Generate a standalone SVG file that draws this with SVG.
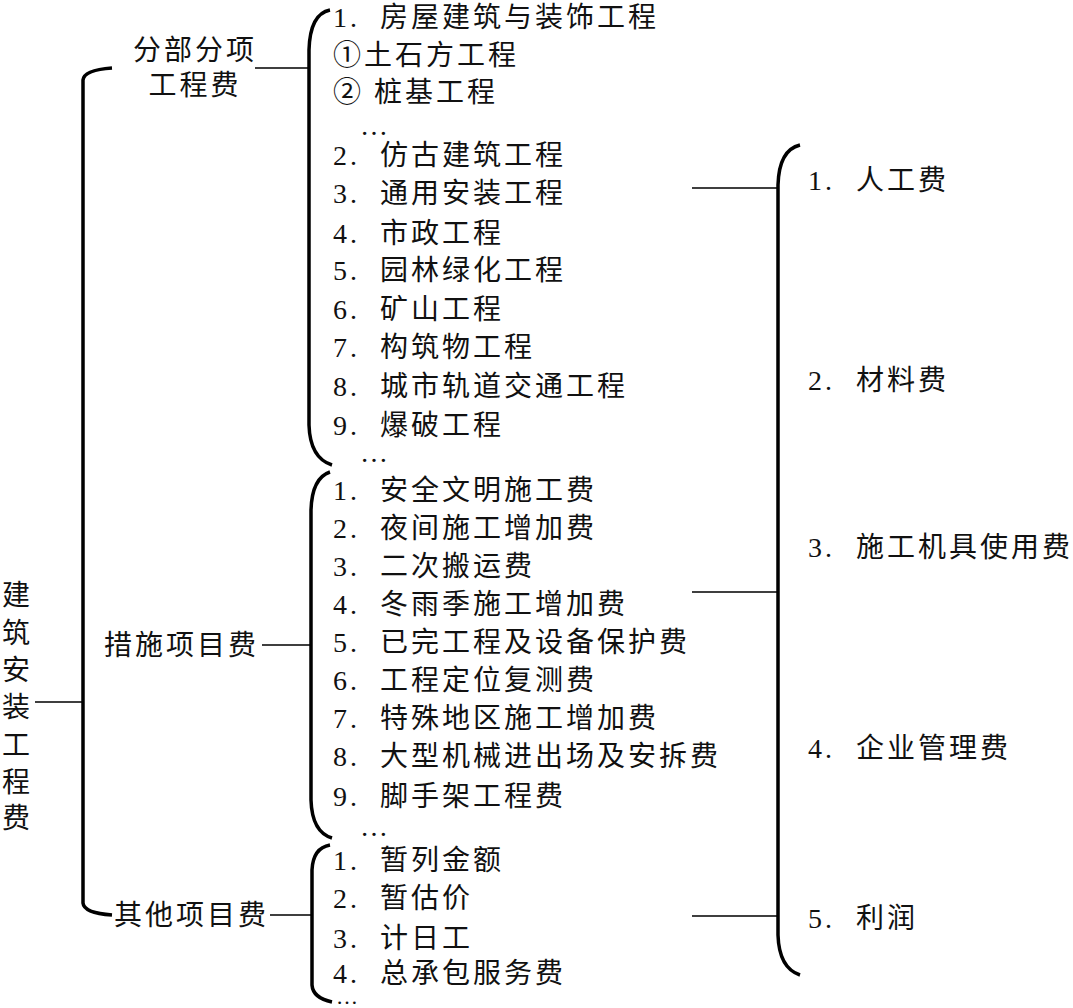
<svg xmlns="http://www.w3.org/2000/svg" width="1073" height="1008" viewBox="0 0 1073 1008">
<style>
text{font-family:"Liberation Serif","Noto Sans CJK SC",serif;font-size:28px;fill:#111;letter-spacing:3px}
.b{fill:none;stroke:#000;stroke-width:3.5}
.l{fill:none;stroke:#000;stroke-width:1.5}
</style>
<rect width="1073" height="1008" fill="#fff"/>
<g id="connectors">
<path class="b" d="M112,68 Q84,70 83,80 L83,903 Q84,913 112,915"/>
<path class="b" d="M330,10 Q310,14 309,50 L309,425 Q310,458 332,465"/>
<path class="b" d="M330,472 Q312,478 311,510 L311,800 Q312,832 332,838"/>
<path class="b" d="M330,845 Q313,848 312,870 L312,985 Q313,998 332,1002"/>
<path class="b" d="M800,145 Q779,150 778,185 L778,935 Q779,968 800,975"/>
<path class="l" d="M35,702 H83 M255,68 H309 M262,645 H311 M270,915 H312 M692,188 H778 M692,592 H778 M692,916 H778"/>
</g>
<g id="root"><text x="2" y="605">建</text><text x="2" y="643">筑</text><text x="2" y="680">安</text><text x="2" y="717">装</text><text x="2" y="755">工</text><text x="2" y="792">程</text><text x="2" y="828">费</text></g>
<g id="n1"><text x="195" y="60" text-anchor="middle">分部分项</text><text x="195" y="95" text-anchor="middle">工程费</text></g>
<g id="n2"><text x="104" y="655">措施项目费</text></g>
<g id="n3"><text x="114" y="925">其他项目费</text></g>
<g id="list1">
<text x="333" y="27">1.<tspan x="380">房屋建筑与装饰工程</tspan></text>
<text x="333" y="65">①土石方工程</text>
<text x="333" y="102">② 桩基工程</text>
<text x="360" y="135">…</text>
<text x="333" y="165">2.<tspan x="380">仿古建筑工程</tspan></text>
<text x="333" y="203">3.<tspan x="380">通用安装工程</tspan></text>
<text x="333" y="243">4.<tspan x="380">市政工程</tspan></text>
<text x="333" y="280">5.<tspan x="380">园林绿化工程</tspan></text>
<text x="333" y="319">6.<tspan x="380">矿山工程</tspan></text>
<text x="333" y="357">7.<tspan x="380">构筑物工程</tspan></text>
<text x="333" y="396">8.<tspan x="380">城市轨道交通工程</tspan></text>
<text x="333" y="435">9.<tspan x="380">爆破工程</tspan></text>
<text x="360" y="462">…</text>
</g>
<g id="list2">
<text x="333" y="500">1.<tspan x="380">安全文明施工费</tspan></text>
<text x="333" y="538">2.<tspan x="380">夜间施工增加费</tspan></text>
<text x="333" y="576">3.<tspan x="380">二次搬运费</tspan></text>
<text x="333" y="614">4.<tspan x="380">冬雨季施工增加费</tspan></text>
<text x="333" y="652">5.<tspan x="380">已完工程及设备保护费</tspan></text>
<text x="333" y="690">6.<tspan x="380">工程定位复测费</tspan></text>
<text x="333" y="728">7.<tspan x="380">特殊地区施工增加费</tspan></text>
<text x="333" y="766">8.<tspan x="380">大型机械进出场及安拆费</tspan></text>
<text x="333" y="806">9.<tspan x="380">脚手架工程费</tspan></text>
<text x="360" y="836">…</text>
</g>
<g id="list3">
<text x="333" y="870">1.<tspan x="380">暂列金额</tspan></text>
<text x="333" y="908">2.<tspan x="380">暂估价</tspan></text>
<text x="333" y="948">3.<tspan x="380">计日工</tspan></text>
<text x="333" y="983">4.<tspan x="380">总承包服务费</tspan></text>
<text x="336" y="1004" style="font-size:22px">…</text>
</g>
<g id="costs">
<text x="808" y="190">1.<tspan x="856">人工费</tspan></text>
<text x="808" y="390">2.<tspan x="856">材料费</tspan></text>
<text x="808" y="557">3.<tspan x="856">施工机具使用费</tspan></text>
<text x="808" y="758">4.<tspan x="856">企业管理费</tspan></text>
<text x="808" y="928">5.<tspan x="856">利润</tspan></text>
</g>
</svg>
